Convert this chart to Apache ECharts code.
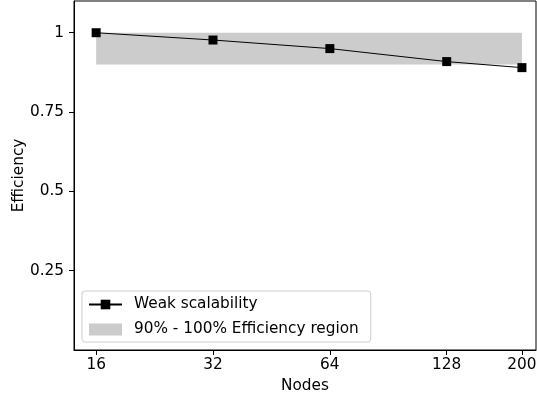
<!DOCTYPE html>
<html>
<head>
<meta charset="utf-8">
<script src="https://cdn.jsdelivr.net/npm/echarts@6/dist/echarts.min.js"></script>
<style>html,body{margin:0;padding:0;background:#fff;}#c{width:537px;height:398px;}</style>
</head>
<body>
<div id="c"></div>
<script>
const nodes = [16, 32, 64, 128, 200];
const efficiency = [1.0, 0.977, 0.95, 0.909, 0.89];
const xTickLabels = [16, 32, 64, 128, 200];
const yTickLabels = [0.25, 0.5, 0.75, 1];
const regionLow = 0.9;
const regionHigh = 1.0;
const seriesName = 'Weak scalability';
const regionName = '90% - 100% Efficiency region';

const chart = echarts.init(document.getElementById('c'), null, {renderer: 'canvas'});
const font = 'DejaVu Sans';
const fs = 15.3;
const option = {
  animation: false,
  textStyle: {fontFamily: font},
  grid: {left: 74, right: 1, top: 1, bottom: 48, show: true, borderColor: '#000', borderWidth: 1, backgroundColor: 'transparent', outerBoundsMode: 'none', containLabel: false},
  legend: {
    orient: 'vertical', left: 82, top: 291,
    padding: [5, 12, 4, 6], itemGap: 8, itemWidth: 33, itemHeight: 12,
    backgroundColor: 'rgba(255,255,255,0.8)', borderColor: '#cccccc', borderWidth: 1, borderRadius: 3,
    textStyle: {fontFamily: font, fontSize: fs, color: '#000', lineHeight: 17, padding: [0, 0, 0, 7]},
    data: [
      {name: seriesName},
      {name: regionName, icon: 'rect', itemStyle: {color: '#cccccc'}}
    ]
  },
  xAxis: {
    type: 'log', logBase: 2, min: 14.03, max: 217.4,
    name: 'Nodes', nameLocation: 'middle', nameGap: 29, nameMoveOverlap: false,
    nameTextStyle: {fontFamily: font, fontSize: fs, color: '#000'},
    axisLine: {show: true, lineStyle: {color: '#000', width: 1}},
    axisTick: {show: true, inside: false, length: 5, lineStyle: {color: '#000'}, customValues: xTickLabels},
    axisLabel: {show: true, fontFamily: font, fontSize: fs, color: '#000', margin: 8, customValues: xTickLabels},
    minorTick: {show: false},
    splitLine: {show: false}
  },
  yAxis: {
    type: 'value', min: 0, max: 1.1,
    name: 'Efficiency', nameLocation: 'middle', nameGap: 47, nameMoveOverlap: false,
    nameTextStyle: {fontFamily: font, fontSize: fs, color: '#000'},
    axisLine: {show: true, lineStyle: {color: '#000', width: 1}},
    axisTick: {show: true, length: 5, lineStyle: {color: '#000'}, customValues: yTickLabels},
    axisLabel: {show: true, fontFamily: font, fontSize: fs, color: '#000', margin: 10, customValues: yTickLabels},
    splitLine: {show: false}
  },
  series: [
    {
      name: regionName, type: 'line',
      data: [[nodes[0], regionHigh], [nodes[nodes.length - 1], regionHigh]],
      symbol: 'none', lineStyle: {width: 0, color: '#cccccc'}, itemStyle: {color: '#cccccc'},
      areaStyle: {color: '#cccccc', opacity: 1, origin: regionLow},
      z: 1, silent: true
    },
    {
      name: seriesName, type: 'line',
      data: nodes.map((n, i) => [n, efficiency[i]]),
      symbol: 'rect', symbolSize: 9,
      lineStyle: {color: '#000', width: 1},
      itemStyle: {color: '#000'},
      z: 3
    }
  ]
};
chart.setOption(option);
</script>
</body>
</html>
